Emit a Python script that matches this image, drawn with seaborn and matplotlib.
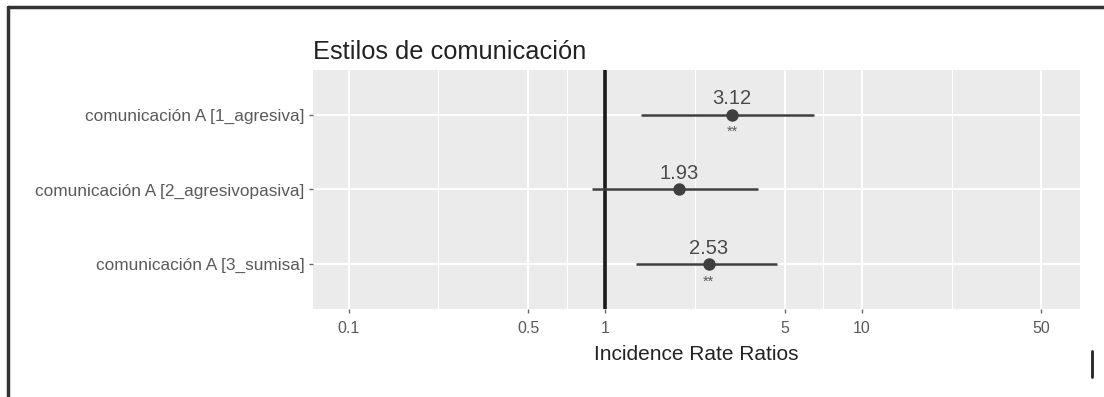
import matplotlib
matplotlib.use("Agg")
import matplotlib.pyplot as plt
from matplotlib.lines import Line2D
import seaborn as sns
import pandas as pd

# Model terms and incidence rate ratios with 95% confidence intervals
terms = [
    "comunicación A [1_agresiva]",
    "comunicación A [2_agresivopasiva]",
    "comunicación A [3_sumisa]",
]
irr = [3.12, 1.93, 2.53]
ci_low = [1.38, 0.89, 1.32]
ci_high = [6.51, 3.92, 4.68]
stars = ["**", "", "**"]

x_breaks = [0.1, 0.5, 1, 5, 10, 50]
x_break_labels = ["0.1", "0.5", "1", "5", "10", "50"]
x_minor = [0.2236, 0.7071, 2.236, 7.071, 22.36, 70.71]

df = pd.DataFrame({"term": terms, "irr": irr, "lo": ci_low, "hi": ci_high})

sns.set_theme(style="darkgrid")
plt.rcParams["font.family"] = ["Liberation Sans", "DejaVu Sans"]

fig = plt.figure(figsize=(11.04, 3.97), dpi=100)
ax = fig.add_axes([0.2835, 0.2217, 0.6947, 0.602])
ax.set_facecolor("#EBEBEB")

ink = "#3F3F3F"

# reference line at IRR = 1
ax.axvline(1, color="#1a1a1a", lw=2.6, zorder=2)

# confidence intervals and point estimates
ax.hlines(y=df["term"], xmin=df["lo"], xmax=df["hi"], color=ink, lw=1.8, zorder=3)
sns.scatterplot(data=df, x="irr", y="term", ax=ax, color=ink, s=80,
                edgecolor=ink, linewidth=0, zorder=4, legend=False)

for t, v, s in zip(terms, irr, stars):
    ax.annotate(f"{v:.2f}", xy=(v, t), xytext=(0, 11.5), textcoords="offset points",
                ha="center", va="center", fontsize=14.5, color="#4a4a4a")
    if s:
        ax.annotate(s, xy=(v, t), xytext=(0, -12.5), textcoords="offset points",
                    ha="center", va="center", fontsize=10.5, color="#5a5a5a")

ax.set_xscale("log")
ax.set_xlim(0.0725, 68.1)
ax.set_ylim(2.6, -0.6)

ax.set_xticks(x_breaks)
ax.set_xticklabels(x_break_labels)
ax.set_xticks(x_minor, minor=True)
ax.set_xticklabels([], minor=True)
ax.tick_params(axis="x", which="minor", length=0, bottom=False)
ax.grid(True, which="major", color="white", lw=1.5)
ax.grid(True, which="minor", axis="x", color="white", lw=0.8)
ax.set_axisbelow(True)

ax.tick_params(axis="both", which="major", length=3, width=1, color="#666666",
               labelcolor="#5a5a5a", labelsize=11.5, pad=3, bottom=True, left=True)
ax.tick_params(axis="x", pad=6)
ax.tick_params(axis="y", labelsize=12.4)
for sp in ax.spines.values():
    sp.set_visible(False)

ax.set_xlabel("Incidence Rate Ratios", fontsize=15, color="#222222", labelpad=6)
ax.set_ylabel("")
ax.set_title("Estilos de comunicación", loc="left", fontsize=18.3, color="#222222", pad=8)

# frame edges drawn around the figure
fig.add_artist(Line2D([8 / 1104, 8 / 1104], [0, 1 - 7 / 397], transform=fig.transFigure,
                      color="#333333", lw=2.5))
fig.add_artist(Line2D([8 / 1104, 1], [1 - 7 / 397, 1 - 7 / 397], transform=fig.transFigure,
                      color="#333333", lw=2.5))
fig.add_artist(Line2D([1092 / 1104, 1092 / 1104], [1 - 351 / 397, 1 - 377 / 397],
                      transform=fig.transFigure, color="#222222", lw=2))

fig.savefig("out.png", dpi=100, facecolor="white")
